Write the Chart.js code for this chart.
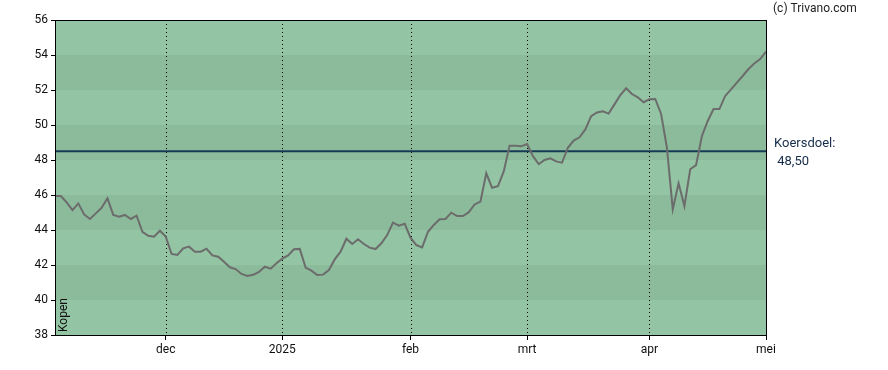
<!DOCTYPE html>
<html><head><meta charset="utf-8">
<script src="https://cdn.jsdelivr.net/npm/chart.js@4/dist/chart.umd.min.js"></script>
<style>html,body{margin:0;padding:0;background:#fff;}canvas{display:block;}</style>
</head><body>
<canvas id="c" width="888" height="370"></canvas>
<script>
// Daily closing prices (trading days, 5 Nov 2024 .. 2 May 2025)
const prices = [
  45.94,45.94,45.58,45.14,45.52,44.89,44.63,44.95,45.27,45.81,
  44.86,44.76,44.86,44.63,44.82,43.90,43.67,43.62,43.96,43.62,
  42.63,42.57,42.95,43.05,42.76,42.76,42.93,42.55,42.47,42.19,
  41.87,41.77,41.49,41.37,41.44,41.60,41.90,41.79,42.10,42.36,
  42.55,42.90,42.92,41.85,41.68,41.43,41.45,41.71,42.32,42.76,
  43.50,43.20,43.47,43.20,42.99,42.91,43.24,43.71,44.42,44.25,
  44.36,43.56,43.14,43.01,43.90,44.29,44.61,44.63,44.99,44.80,
  44.80,45.02,45.46,45.62,47.24,46.41,46.50,47.35,48.82,48.82,
  48.78,48.91,48.23,47.77,48.00,48.10,47.92,47.85,48.70,49.11,
  49.30,49.75,50.51,50.72,50.78,50.65,51.18,51.71,52.10,51.77,
  51.58,51.30,51.47,51.49,50.63,48.70,45.18,46.67,45.37,47.47,
  47.71,49.37,50.23,50.91,50.91,51.66,52.04,52.42,52.80,53.20,
  53.52,53.77,54.19
];
const tickIndex = [19, 39, 61, 81, 102, 122];
const tickLabels = ['dec', '2025', 'feb', 'mrt', 'apr', 'mei'];
const yTicks = [38, 40, 42, 44, 46, 48, 50, 52, 54, 56];
const target = 48.5;
const targetLabel = ['Koersdoel:', ' 48,50'];
const copyright = '(c) Trivano.com';
const adviceLabel = 'Kopen';
const bandColors = ['#93c4a3', '#8bbb9b'];

const FONT = 'Roboto, "Liberation Sans", Arial, sans-serif';

const decor = {
  id: 'decor',
  beforeDatasetsDraw(chart) {
    const {ctx, chartArea: a, scales: {x, y}} = chart;
    ctx.save();
    for (let k = 0; k < yTicks.length - 1; k++) {
      const yTop = y.getPixelForValue(yTicks[k + 1]);
      const yBot = y.getPixelForValue(yTicks[k]);
      ctx.fillStyle = bandColors[k % 2];
      ctx.fillRect(a.left, yTop, a.right - a.left, yBot - yTop);
    }
    // dotted month lines
    ctx.strokeStyle = '#000';
    ctx.lineWidth = 1;
    ctx.setLineDash([1, 3]);
    tickIndex.forEach(v => {
      const px = Math.round(x.getPixelForValue(v)) + 0.5;
      if (px < a.right - 2) {
        ctx.beginPath();
        ctx.moveTo(px, a.top);
        ctx.lineTo(px, a.bottom);
        ctx.stroke();
      }
    });
    ctx.setLineDash([]);
    // target line
    const ty = y.getPixelForValue(target);
    ctx.strokeStyle = '#163a55';
    ctx.lineWidth = 2.2;
    ctx.beginPath();
    ctx.moveTo(a.left, ty);
    ctx.lineTo(a.right, ty);
    ctx.stroke();
    // advice label
    ctx.fillStyle = '#111';
    ctx.font = '12px ' + FONT;
    ctx.translate(a.left + 9, a.bottom - 3);
    ctx.rotate(-Math.PI / 2);
    ctx.textAlign = 'left';
    ctx.textBaseline = 'middle';
    ctx.fillText(adviceLabel, 0, 0);
    ctx.restore();
  },
  afterDraw(chart) {
    const {ctx, chartArea: a, scales: {y}} = chart;
    ctx.save();
    ctx.strokeStyle = '#000';
    ctx.lineWidth = 1;
    const l = Math.round(a.left) + 0.5, t = Math.round(a.top) + 0.5;
    const r = Math.round(a.right) + 0.5, b = Math.round(a.bottom) + 0.5;
    ctx.strokeRect(l, t, r - l, b - t);
    ctx.textAlign = 'left';
    ctx.textBaseline = 'middle';
    ctx.font = '12px ' + FONT;
    ctx.fillStyle = '#222';
    ctx.fillText(copyright, a.right + 7, 9);
    const ty = y.getPixelForValue(target);
    ctx.font = '13px ' + FONT;
    ctx.fillStyle = '#142c4a';
    ctx.fillText(targetLabel[0], a.right + 8, ty - 8);
    ctx.fillText(targetLabel[1], a.right + 8, ty + 10);
    ctx.restore();
  }
};

new Chart(document.getElementById('c'), {
  type: 'line',
  data: {
    datasets: [{
      data: prices.map((v, i) => ({x: i, y: v})),
      borderColor: '#6c6c6c',
      borderWidth: 2,
      pointRadius: 0,
      tension: 0,
      fill: false
    }]
  },
  options: {
    responsive: false,
    animation: false,
    devicePixelRatio: 1,
    layout: {padding: {top: 20, right: 122, bottom: 0, left: 0}},
    plugins: {legend: {display: false}, tooltip: {enabled: false}},
    scales: {
      x: {
        type: 'linear',
        min: 0,
        max: prices.length - 1,
        afterBuildTicks(s) { s.ticks = tickIndex.map(v => ({value: v})); },
        afterFit(s) { s.height = 35; },
        ticks: {
          autoSkip: false,
          maxRotation: 0,
          padding: 3,
          color: '#111',
          font: {family: FONT, size: 12},
          callback(v) { const k = tickIndex.indexOf(v); return k >= 0 ? tickLabels[k] : ''; }
        },
        grid: {drawOnChartArea: false, drawTicks: true, tickLength: 5, color: '#000'},
        border: {display: false}
      },
      y: {
        min: 38,
        max: 56,
        afterBuildTicks(s) { s.ticks = yTicks.map(v => ({value: v})); },
        afterFit(s) { s.width = 55; },
        ticks: {
          padding: 3,
          color: '#111',
          font: {family: FONT, size: 12}
        },
        grid: {drawOnChartArea: false, drawTicks: true, tickLength: 4, color: '#000'},
        border: {display: false}
      }
    }
  },
  plugins: [decor]
});
</script>
</body></html>
